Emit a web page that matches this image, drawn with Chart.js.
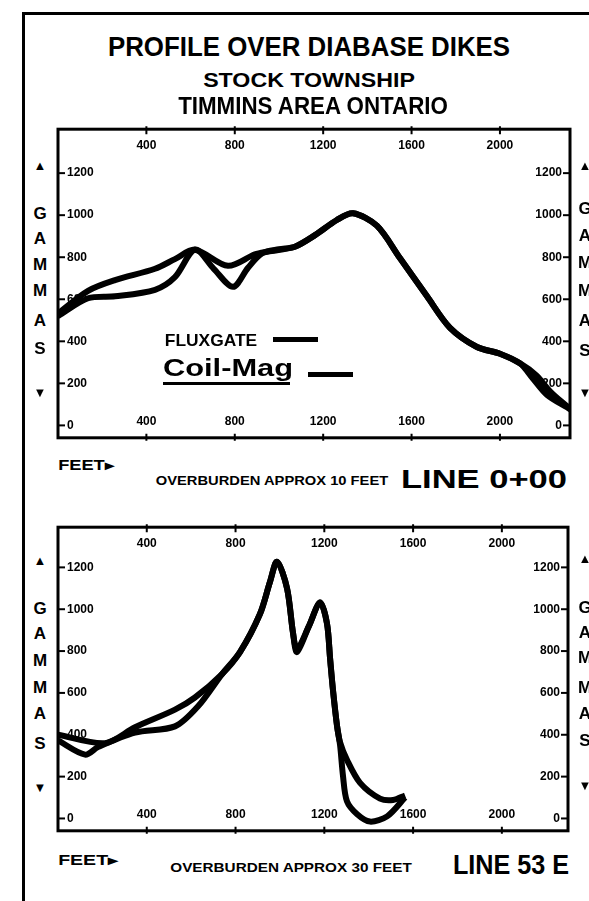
<!DOCTYPE html>
<html>
<head>
<meta charset="utf-8">
<title>Profile over diabase dikes</title>
<script src="https://cdn.jsdelivr.net/npm/chart.js@4.4.1/dist/chart.umd.min.js"></script>
<style>
  html, body { margin: 0; padding: 0; background: #fff; }
  body { position: relative; width: 589px; height: 901px; overflow: hidden; color: #000;
         font-family: "Liberation Sans", Arial, sans-serif; }
  .rule { position: absolute; background: #000; }
  .lbl { position: absolute; white-space: nowrap; line-height: 1; font-weight: bold; transform-origin: 50% 50%; }
  canvas { position: absolute; }
</style>
</head>
<body>
<div class="rule" style="left:22px;top:12px;width:567px;height:3px"></div>
<div class="rule" style="left:22px;top:12px;width:3px;height:889px"></div>
<canvas id="line0" width="530" height="341" style="left:50px;top:113px"></canvas>
<canvas id="line53" width="528" height="336" style="left:50px;top:511px"></canvas>
<script>
// tick labels
const feetTicks = [400, 800, 1200, 1600, 2000];
const gammaTicks = [0, 200, 400, 600, 800, 1000, 1200];

// LINE 0+00 (overburden approx 10 feet)
const fluxFeet0 = [0, 136, 258, 439, 529, 620, 769, 891, 950, 1072, 1163, 1262, 1335, 1443, 1548, 1670, 1774, 1896, 2000, 2091, 2149, 2213, 2303, 2340];
const flux0 = [532, 640, 691, 745, 791, 836, 759, 814, 827, 850, 905, 977, 1009, 950, 795, 614, 464, 373, 341, 295, 223, 145, 86, 62];
const coilFeet0 = [0, 136, 258, 439, 529, 620, 705, 792, 860, 923, 1000, 1072, 1163, 1262, 1335, 1443, 1548, 1670, 1774, 1896, 2000, 2091, 2165, 2230, 2303, 2340];
const coil0 = [520, 605, 614, 645, 705, 836, 745, 659, 750, 818, 838, 850, 905, 977, 1009, 950, 795, 614, 464, 373, 341, 295, 238, 158, 92, 66];

// LINE 53 E (overburden approx 30 feet)
const fluxFeet53 = [0, 212, 347, 527, 617, 739, 820, 910, 955, 987, 1032, 1059, 1077, 1130, 1181, 1212, 1226, 1239, 1257, 1271, 1302, 1361, 1451, 1510, 1564];
const flux53 = [400, 360, 436, 520, 578, 690, 795, 977, 1130, 1227, 1100, 886, 809, 918, 1032, 932, 764, 614, 445, 364, 280, 170, 95, 88, 110];
const coilFeet53 = [0, 122, 180, 347, 527, 631, 739, 820, 910, 955, 987, 1032, 1059, 1077, 1130, 1181, 1212, 1226, 1239, 1257, 1271, 1284, 1302, 1348, 1406, 1483, 1564];
const coil53 = [373, 305, 341, 410, 440, 536, 690, 795, 977, 1130, 1227, 1100, 886, 795, 918, 1032, 932, 764, 614, 445, 350, 205, 82, 20, -15, 10, 100];

const tickFont = 'bold 12px "Liberation Sans Narrow", "Liberation Sans", sans-serif';

const pts = (xs, ys) => xs.map((x, i) => ({x: x, y: ys[i]}));

// box, inward tick marks and the feet labels written inside the box
const frame = {
    id: 'frame',
    beforeDatasetsDraw(chart) {
        const {ctx, chartArea: a, scales} = chart;
        ctx.save();
        ctx.strokeStyle = '#000';
        ctx.fillStyle = '#000';
        ctx.lineWidth = 2;
        ctx.font = tickFont;
        ctx.textAlign = 'center';
        ctx.textBaseline = 'middle';
        scales.x.ticks.forEach(t => {
            const px = scales.x.getPixelForValue(t.value);
            ctx.beginPath();
            ctx.moveTo(px, a.top - 3); ctx.lineTo(px, a.top + 5);
            ctx.moveTo(px, a.bottom + 3); ctx.lineTo(px, a.bottom - 4);
            ctx.stroke();
            ctx.fillText(String(t.value), px, a.top + 16);
            ctx.fillText(String(t.value), px, a.bottom - 16);
        });
        ['y', 'y2'].forEach(id => {
            const s = scales[id];
            const x0 = s.position === 'left' ? a.left : a.right;
            const dir = s.position === 'left' ? 1 : -1;
            s.ticks.forEach(t => {
                const py = s.getPixelForValue(t.value);
                ctx.beginPath();
                ctx.moveTo(x0, py); ctx.lineTo(x0 + dir * 7, py);
                ctx.stroke();
            });
        });
        ctx.restore();
    },
    afterDatasetsDraw(chart) {
        const {ctx, chartArea: a} = chart;
        ctx.save();
        ctx.strokeStyle = '#000';
        ctx.lineWidth = 3;
        ctx.strokeRect(a.left, a.top, a.right - a.left, a.bottom - a.top);
        ctx.restore();
    }
};

function gammaAxis(pos, yMin, yMax) {
    return {
        type: 'linear', position: pos, min: yMin, max: yMax,
        grid: {display: false}, border: {display: false},
        // mirrored labels sit inside the box; the right axis needs a negative pad to stay inside
        ticks: {mirror: true, padding: pos === 'left' ? 9 : -8, color: '#000', autoSkip: false,
                font: {family: '"Liberation Sans Narrow", "Liberation Sans", sans-serif', size: 12, weight: 'bold'},
                callback: v => String(v)},
        afterBuildTicks: s => { s.ticks = gammaTicks.map(v => ({value: v})); },
        afterFit: s => { s.width = 0; }
    };
}

function profile(id, fluxFeet, flux, coilFeet, coil, xMax, yMin, yMax) {
    const line = {borderColor: '#000', borderWidth: 6, pointRadius: 0, tension: 0.3, fill: false};
    return new Chart(document.getElementById(id), {
        type: 'line',
        data: {
            datasets: [
                Object.assign({label: 'FLUXGATE', data: pts(fluxFeet, flux)}, line),
                Object.assign({label: 'Coil-Mag', data: pts(coilFeet, coil)}, line)
            ]
        },
        options: {
            responsive: false, animation: false, devicePixelRatio: 1,
            layout: {padding: {left: 8, right: 10, top: 9, bottom: 9}},
            plugins: {legend: {display: false}, tooltip: {enabled: false}},
            scales: {
                x: {type: 'linear', position: 'bottom', min: 0, max: xMax,
                    grid: {display: false}, border: {display: false}, ticks: {display: false},
                    afterBuildTicks: s => { s.ticks = feetTicks.map(v => ({value: v})); },
                    afterFit: s => { s.height = 0; }},
                y: gammaAxis('left', yMin, yMax),
                y2: gammaAxis('right', yMin, yMax)
            }
        },
        plugins: [frame]
    });
}

profile('line0', fluxFeet0, flux0, coilFeet0, coil0, 2317, -59, 1409);
profile('line53', fluxFeet53, flux53, coilFeet53, coil53, 2298, -59, 1392);

// text written on the sheet
function place(text, cx, cy, w, size) {
    const d = document.createElement('div');
    d.className = 'lbl';
    d.textContent = text;
    d.style.fontSize = size + 'px';
    d.style.left = cx + 'px';
    d.style.top = cy + 'px';
    document.body.appendChild(d);
    const k = w ? w / d.offsetWidth : 1;
    d.style.transform = 'translate(-50%,-50%) scaleX(' + k + ')';
    return d;
}
function rule(x, y, w, h) {
    const d = document.createElement('div');
    d.className = 'rule';
    d.style.cssText = 'left:' + x + 'px;top:' + y + 'px;width:' + w + 'px;height:' + h + 'px';
    document.body.appendChild(d);
}

place('PROFILE OVER DIABASE DIKES', 309, 47, 402, 27);
place('STOCK TOWNSHIP', 309, 79, 212, 21);
place('TIMMINS AREA ONTARIO', 313, 106, 270, 23);

// legend
place('FLUXGATE', 211, 340, 92, 17);
rule(273, 337, 45, 5);
place('Coil-Mag', 228, 368, 130, 23);
rule(163, 382, 127, 3);
rule(308, 372, 45, 5);

// captions under each box
place('FEET\u25B8', 86, 465, 56, 14);
place('OVERBURDEN APPROX 10 FEET', 272, 480, 232, 13);
place('LINE 0+00', 484, 479, 166, 26);
place('FEET\u25B8', 88, 860, 60, 14);
place('OVERBURDEN APPROX 30 FEET', 291, 867, 241, 13);
place('LINE 53 E', 511, 865, 116, 28);

// GAMMAS written down both sides of each box
const sideLetters = ['\u25B2', 'G', 'A', 'M', 'M', 'A', 'S', '\u25BC'];
const sideRows = [
    [40, [165, 213, 238, 264, 290, 320, 348, 392]],
    [585, [165, 208, 235, 262, 290, 320, 350, 392]],
    [40, [560, 608, 633, 660, 687, 713, 743, 787]],
    [585, [558, 607, 632, 657, 687, 713, 740, 785]]
];
sideRows.forEach(([cx, ys]) => {
    sideLetters.forEach((ch, i) => {
        const arrow = i === 0 || i === sideLetters.length - 1;
        place(ch, cx, ys[i], 0, arrow ? 13 : 17);
    });
});
</script>
</body>
</html>
